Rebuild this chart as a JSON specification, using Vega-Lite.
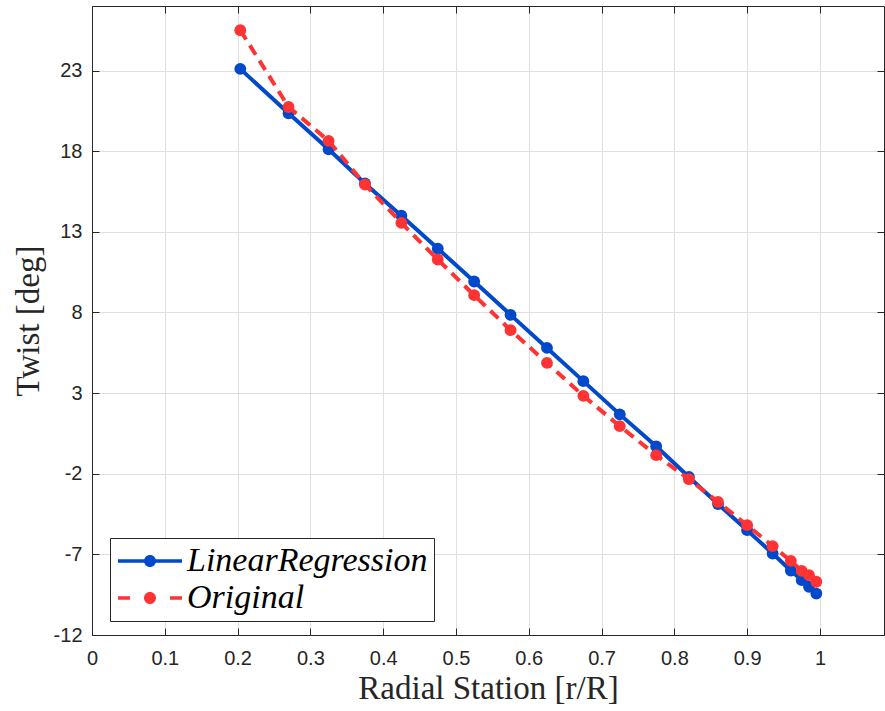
{
  "$schema": "https://vega.github.io/schema/vega-lite/v6.json",
  "width": 792,
  "height": 629,
  "autosize": {"type": "none"},
  "padding": {"left": 92, "top": 6, "right": 1, "bottom": 76},
  "background": "white",
  "datasets": {
    "lr": [
      {"r": 0.2037, "twist": 23.1, "series": "LinearRegression"},
      {"r": 0.27, "twist": 20.35, "series": "LinearRegression"},
      {"r": 0.325, "twist": 18.12, "series": "LinearRegression"},
      {"r": 0.375, "twist": 16.0, "series": "LinearRegression"},
      {"r": 0.425, "twist": 14.0, "series": "LinearRegression"},
      {"r": 0.475, "twist": 11.96, "series": "LinearRegression"},
      {"r": 0.525, "twist": 9.92, "series": "LinearRegression"},
      {"r": 0.575, "twist": 7.85, "series": "LinearRegression"},
      {"r": 0.625, "twist": 5.8, "series": "LinearRegression"},
      {"r": 0.675, "twist": 3.74, "series": "LinearRegression"},
      {"r": 0.725, "twist": 1.68, "series": "LinearRegression"},
      {"r": 0.775, "twist": -0.3, "series": "LinearRegression"},
      {"r": 0.82, "twist": -2.2, "series": "LinearRegression"},
      {"r": 0.86, "twist": -3.88, "series": "LinearRegression"},
      {"r": 0.9, "twist": -5.5, "series": "LinearRegression"},
      {"r": 0.935, "twist": -6.95, "series": "LinearRegression"},
      {"r": 0.96, "twist": -8.0, "series": "LinearRegression"},
      {"r": 0.975, "twist": -8.6, "series": "LinearRegression"},
      {"r": 0.985, "twist": -9.01, "series": "LinearRegression"},
      {"r": 0.995, "twist": -9.43, "series": "LinearRegression"}
    ],
    "orig": [
      {"r": 0.2037, "twist": 25.5, "series": "Original"},
      {"r": 0.27, "twist": 20.74, "series": "Original"},
      {"r": 0.325, "twist": 18.64, "series": "Original"},
      {"r": 0.375, "twist": 15.93, "series": "Original"},
      {"r": 0.425, "twist": 13.55, "series": "Original"},
      {"r": 0.475, "twist": 11.28, "series": "Original"},
      {"r": 0.525, "twist": 9.07, "series": "Original"},
      {"r": 0.575, "twist": 6.9, "series": "Original"},
      {"r": 0.625, "twist": 4.87, "series": "Original"},
      {"r": 0.675, "twist": 2.83, "series": "Original"},
      {"r": 0.725, "twist": 0.95, "series": "Original"},
      {"r": 0.775, "twist": -0.85, "series": "Original"},
      {"r": 0.82, "twist": -2.34, "series": "Original"},
      {"r": 0.86, "twist": -3.75, "series": "Original"},
      {"r": 0.9, "twist": -5.19, "series": "Original"},
      {"r": 0.935, "twist": -6.49, "series": "Original"},
      {"r": 0.96, "twist": -7.4, "series": "Original"},
      {"r": 0.975, "twist": -8.02, "series": "Original"},
      {"r": 0.985, "twist": -8.29, "series": "Original"},
      {"r": 0.995, "twist": -8.7, "series": "Original"}
    ],
    "legendonly": []
  },
  "layer": [
    {
      "data": {"name": "lr"},
      "mark": {"type": "line", "strokeWidth": 4, "color": "#0048CC", "clip": true},
      "encoding": {
        "x": {
          "field": "r", "type": "quantitative",
          "scale": {"domain": [0, 1.088], "nice": false, "zero": false},
          "axis": {
            "orient": "bottom",
            "title": "Radial Station [r/R]",
            "values": [0, 0.1, 0.2, 0.3, 0.4, 0.5, 0.6, 0.7, 0.8, 0.9, 1],
            "labelExpr": "'' + datum.value",
            "grid": true,
            "tickSize": -7,
            "labelPadding": 20,
            "titlePadding": 4,
            "labelFlush": false
          }
        },
        "y": {
          "field": "twist", "type": "quantitative",
          "scale": {"domain": [-12, 27], "nice": false, "zero": false},
          "axis": {
            "orient": "left",
            "title": "Twist [deg]",
            "values": [-12, -7, -2, 3, 8, 13, 18, 23],
            "labelExpr": "'' + datum.value",
            "grid": true,
            "tickSize": -7,
            "labelPadding": 17,
            "titlePadding": 8,
            "labelFlush": false
          }
        }
      }
    },
    {
      "data": {"name": "lr"},
      "mark": {"type": "point", "filled": true, "opacity": 1, "size": 140, "color": "#0048CC", "clip": true},
      "encoding": {
        "x": {
          "field": "r", "type": "quantitative",
          "axis": {"orient": "top", "title": null, "labels": false, "grid": false, "tickSize": -7, "values": [0, 0.1, 0.2, 0.3, 0.4, 0.5, 0.6, 0.7, 0.8, 0.9, 1]}
        },
        "y": {
          "field": "twist", "type": "quantitative",
          "axis": {"orient": "right", "title": null, "labels": false, "grid": false, "tickSize": -7, "values": [-12, -7, -2, 3, 8, 13, 18, 23]}
        }
      }
    },
    {
      "data": {"name": "orig"},
      "mark": {"type": "line", "strokeWidth": 4, "strokeDash": [11, 7], "color": "#FF3333", "clip": true},
      "encoding": {
        "x": {"field": "r", "type": "quantitative", "axis": null},
        "y": {"field": "twist", "type": "quantitative", "axis": null}
      }
    },
    {
      "data": {"name": "orig"},
      "mark": {"type": "point", "filled": true, "opacity": 1, "size": 140, "color": "#FF3333", "clip": true},
      "encoding": {
        "x": {"field": "r", "type": "quantitative", "axis": null},
        "y": {"field": "twist", "type": "quantitative", "axis": null}
      }
    },
    {
      "data": {"name": "legendonly"},
      "mark": {"type": "point", "filled": true, "opacity": 1, "size": 144},
      "encoding": {
        "color": {
          "field": "series", "type": "nominal",
          "scale": {"domain": ["LinearRegression", "Original"], "range": ["#0048CC", "#FF3333"]},
          "legend": {
            "orient": "none",
            "legendX": 18,
            "legendY": 532,
            "title": null,
            "direction": "vertical",
            "fillColor": "white",
            "strokeColor": "#262626",
            "padding": 6,
            "labelFont": "Liberation Serif",
            "labelFontStyle": "italic",
            "labelFontSize": 34,
            "labelColor": "black",
            "labelLimit": 500,
            "labelOffset": 20,
            "symbolSize": 144,
            "symbolOffset": 17,
            "rowPadding": 3
          }
        },
        "shape": {
          "field": "series", "type": "nominal",
          "scale": {
            "domain": ["LinearRegression", "Original"],
            "range": [
              "M-5.333,-0.3H-0.9V0.3H-5.333Z M0.9,-0.3H5.333V0.3H0.9Z M1,0A1,1 0 1,1 -1,0A1,1 0 1,1 1,0Z",
              "M-5.333,-0.3H-3.333V0.3H-5.333Z M3.333,-0.3H5.333V0.3H3.333Z M1,0A1,1 0 1,1 -1,0A1,1 0 1,1 1,0Z"
            ]
          },
          "legend": {
            "orient": "none",
            "legendX": 18,
            "legendY": 532,
            "title": null,
            "direction": "vertical",
            "fillColor": "white",
            "strokeColor": "#262626",
            "padding": 6,
            "labelFont": "Liberation Serif",
            "labelFontStyle": "italic",
            "labelFontSize": 34,
            "labelColor": "black",
            "labelLimit": 500,
            "labelOffset": 20,
            "symbolSize": 144,
            "symbolOffset": 17,
            "rowPadding": 3
          }
        }
      }
    }
  ],
  "resolve": {"axis": {"x": "independent", "y": "independent"}},
  "config": {
    "view": {"stroke": null},
    "axis": {
      "labelFont": "Liberation Sans",
      "labelFontSize": 20,
      "labelColor": "#262626",
      "tickColor": "#262626",
      "tickWidth": 1,
      "domainColor": "#262626",
      "domainWidth": 1,
      "gridColor": "#dfdfdf",
      "gridWidth": 1,
      "gridOpacity": 1,
      "titleFont": "Liberation Serif",
      "titleFontSize": 33,
      "titleFontWeight": "normal",
      "titleColor": "#262626"
    }
  }
}
